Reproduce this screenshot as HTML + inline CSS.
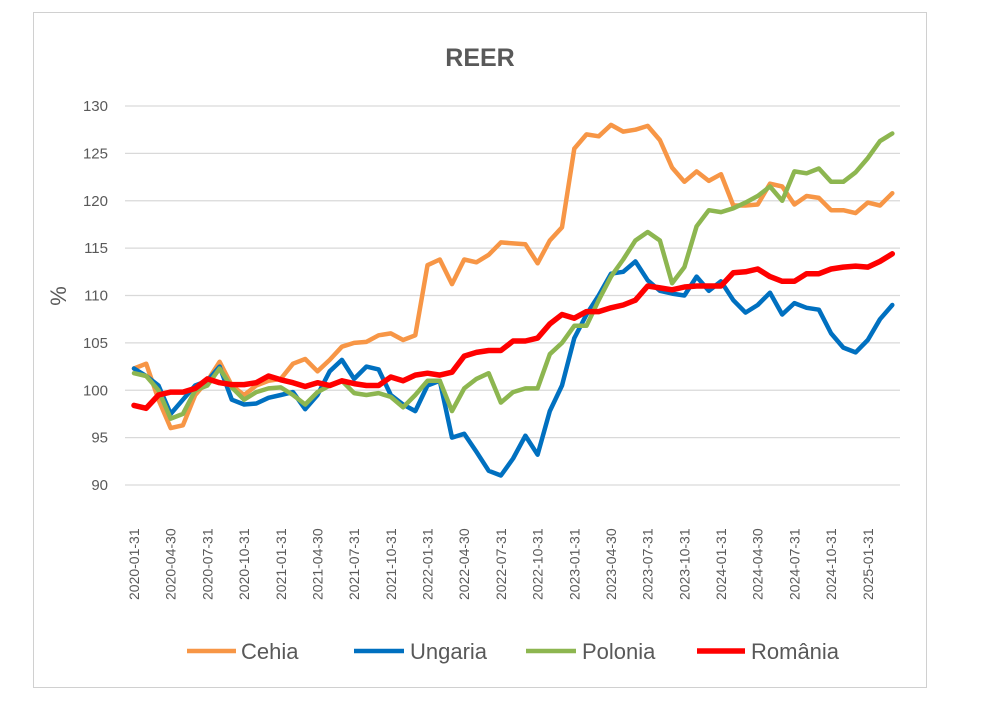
<!DOCTYPE html>
<html><head><meta charset="utf-8"><style>
body{margin:0;background:#fff;}
svg text{font-family:"Liberation Sans",Calibri,sans-serif;fill:#595959;}
</style></head><body>
<svg id="s" width="1000" height="704" xmlns="http://www.w3.org/2000/svg">
<rect x="0" y="0" width="1000" height="704" fill="#fff"/>
<rect x="33.5" y="12.5" width="893" height="675" fill="#fff" stroke="#d0d0d0"/>
<text x="480" y="66" font-size="25" font-weight="bold" text-anchor="middle">REER</text>
<g id="grid" stroke="#d9d9d9" stroke-width="1.3"></g>
<g id="yl" font-size="15" text-anchor="end"></g>
<text transform="translate(66,296) rotate(-90)" font-size="22" text-anchor="middle">%</text>
<g id="xl" font-size="14"></g>
<g id="lines" fill="none" stroke-width="4.5" stroke-linejoin="round" stroke-linecap="round"></g>
<g font-size="22">
<line x1="187" y1="651" x2="236" y2="651" stroke="#F79646" stroke-width="4.5"/><text x="241" y="659">Cehia</text>
<line x1="354" y1="651" x2="404" y2="651" stroke="#0070C0" stroke-width="4.5"/><text x="410" y="659">Ungaria</text>
<line x1="526" y1="651" x2="576" y2="651" stroke="#8DB650" stroke-width="4.5"/><text x="582" y="659">Polonia</text>
<line x1="697" y1="651" x2="745" y2="651" stroke="#FF0000" stroke-width="5.5"/><text x="751" y="659">România</text>
</g>
</svg>
<script>
const ns="http://www.w3.org/2000/svg";
function el(t,a,p,txt){const e=document.createElementNS(ns,t);for(const k in a)e.setAttribute(k,a[k]);if(txt)e.textContent=txt;document.getElementById(p).appendChild(e);}
const Y=v=>485-(v-90)*9.475, X=i=>134+i*12.23;
for(let v=90;v<=130;v+=5){el('line',{x1:125,x2:900,y1:Y(v),y2:Y(v)},'grid');el('text',{x:108,y:Y(v)+5},'yl',String(v));}
const ms=['01-31','04-30','07-31','10-31'];
for(let q=0;q<21;q++){const yr=2020+Math.floor(q/4);const x=134+q*36.69+5;el('text',{transform:`translate(${x},600) rotate(-90)`},'xl',yr+'-'+ms[q%4]);}
const D={
'#F79646':[102.3,102.8,99,96,96.3,99.5,101,103,100.5,99.5,100.5,101,101.2,102.8,103.3,102,103.2,104.6,105,105.1,105.8,106,105.3,105.8,113.2,113.8,111.2,113.8,113.5,114.3,115.6,115.5,115.4,113.4,115.8,117.2,125.5,127,126.8,128,127.3,127.5,127.9,126.4,123.5,122,123.1,122.1,122.8,119.5,119.5,119.6,121.8,121.5,119.6,120.5,120.3,119,119,118.7,119.8,119.5,120.8],
'#0070C0':[102.3,101.5,100.5,97.5,99,100.5,101,102.5,99,98.5,98.6,99.2,99.5,99.8,98,99.5,102,103.2,101.2,102.5,102.2,99.5,98.5,97.8,100.5,101,95,95.4,93.5,91.5,91,92.8,95.2,93.2,97.8,100.5,105.5,108,110,112.3,112.5,113.6,111.6,110.5,110.2,110,112,110.5,111.5,109.5,108.2,109,110.3,108,109.2,108.7,108.5,106,104.5,104,105.3,107.5,109],
'#8DB650':[101.8,101.5,100,97,97.5,100,100.5,102.3,100.3,99,99.8,100.2,100.3,99.5,98.5,99.8,100.5,101,99.7,99.5,99.7,99.3,98.2,99.5,101,101,97.8,100.2,101.2,101.8,98.7,99.8,100.2,100.2,103.8,105,106.8,106.8,109.5,112,113.8,115.8,116.7,115.8,111.3,113,117.3,119,118.8,119.2,119.8,120.5,121.5,120,123.1,122.9,123.4,122,122,123,124.5,126.3,127.1],
'#FF0000':[98.4,98.1,99.5,99.8,99.8,100.2,101.2,100.8,100.6,100.6,100.8,101.5,101.1,100.8,100.4,100.8,100.5,101,100.7,100.5,100.5,101.4,101,101.6,101.8,101.6,101.9,103.6,104,104.2,104.2,105.2,105.2,105.5,107,108,107.6,108.3,108.3,108.7,109,109.5,111,110.8,110.6,110.9,111,111,111,112.4,112.5,112.8,112,111.5,111.5,112.3,112.3,112.8,113,113.1,113,113.6,114.4]};
for(const c in D){const a={stroke:c,points:D[c].map((v,i)=>X(i).toFixed(1)+','+Y(v).toFixed(1)).join(' ')};if(c==='#FF0000')a['stroke-width']=5.5;el('polyline',a,'lines');}
</script>
</body></html>
